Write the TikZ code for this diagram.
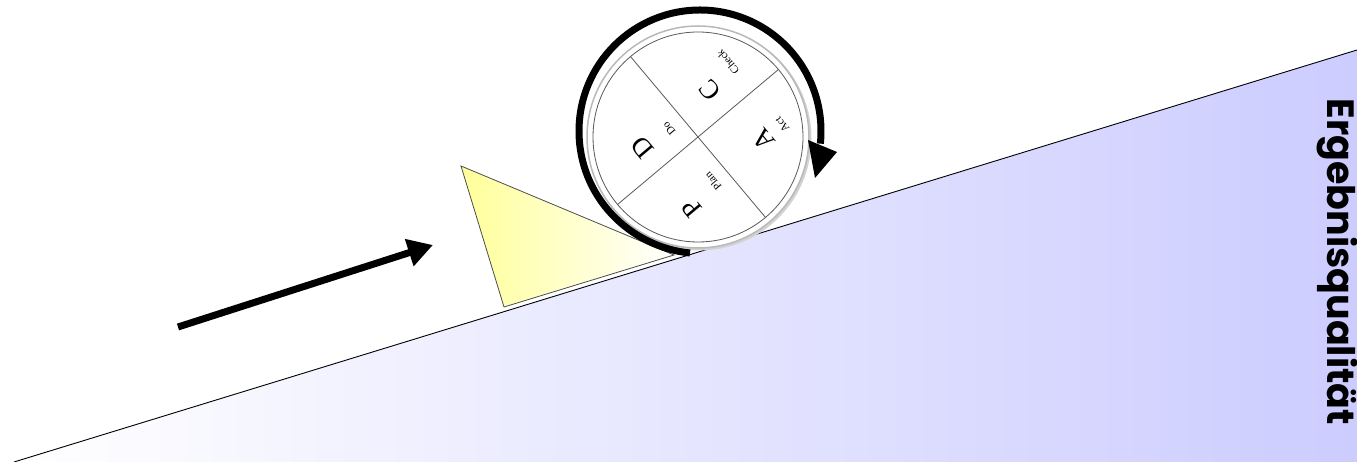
\documentclass[tikz,border=0pt]{standalone}
\usepackage{fontspec}
\setmainfont{Liberation Serif}
\newfontfamily\ergfont{Poppins}
\usetikzlibrary{arrows.meta,calc}
\definecolor{lav}{RGB}{204,204,255}
\definecolor{triyel}{RGB}{255,255,153}
\tikzset{
  wheeltext/.style={rotate=130, inner sep=0pt},
  bigletter/.style={wheeltext, font=\fontsize{27}{27}\selectfont},
  smallword/.style={wheeltext, font=\fontsize{11}{11}\selectfont},
  divline/.style={draw=black!65, line width=0.8},
  bigarrow/.style={line width=7, -{Triangle[length=25pt,width=27pt]}},
  ergtext/.style={rotate=-90, inner sep=0pt, font=\ergfont\bfseries\fontsize{38}{38}\selectfont}
}
\begin{document}
\begin{tikzpicture}[x=1pt,y=1pt]
\useasboundingbox (0,0) rectangle (1357,462);
% slope
\coordinate (slopeA) at (14,0);
\coordinate (slopeB) at (1357,412);
\shade[left color=white, right color=lav] (slopeA) -- (slopeB) -- (1357,0) -- cycle;
\draw[line width=0.9] (slopeA) -- (slopeB);
% wedge
\shadedraw[left color=triyel, middle color=triyel!55, right color=white, draw=black!70, line width=0.8]
  (461,296) -- (504,155) -- (674,207) -- cycle;
% wheel
\coordinate (wc) at (698,325);
\fill[gray!35] (699.5,323.5) circle[radius=112];
\draw[gray!55, line width=1.5, fill=white] (wc) circle[radius=111];
\draw[black!65, line width=0.8] (wc) circle[radius=105];
\draw[divline] ($(wc)+(40:105)$) -- ($(wc)+(220:105)$);
\draw[divline] ($(wc)+(130:105)$) -- ($(wc)+(310:105)$);
\node[bigletter] (lc) at (710,372) {C};
\node[smallword] (wcheck) at (728,400) {Check};
\node[bigletter] (ld) at (642,314) {D};
\node[smallword] (wdo) at (669,333) {Do};
\node[bigletter] (lp) at (692,254) {P};
\node[smallword] (wplan) at (713,281) {Plan};
\node[bigletter] (la) at (763,322) {A};
\node[smallword] (wact) at (782,337) {Act};
% rotation arrow
\coordinate (ac) at (700,331);
\draw[line width=7] (690,209) .. controls (630,215) and (579,265) .. (579,331)
  arc[start angle=180, end angle=-6, radius=121];
\fill (808,322) -- (837,310) -- (815,284) -- cycle;
% push arrow
\coordinate (arrowtail) at (178,135);
\coordinate (arrowtip) at (433,217);
\draw[bigarrow] (arrowtail) -- (arrowtip);
% label
\node[ergtext] (erg) at (1337,200) {Ergebnisqualität};
\end{tikzpicture}
\end{document}
